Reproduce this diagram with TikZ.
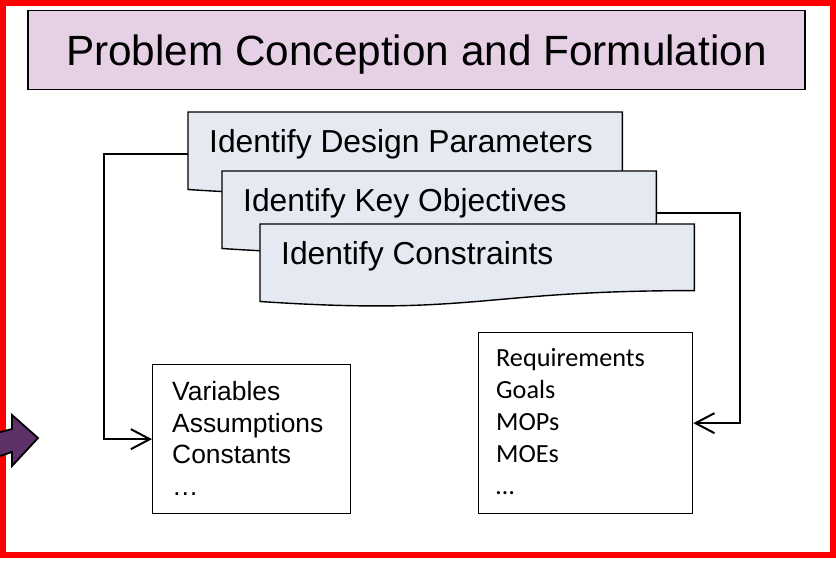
\documentclass[tikz,border=0pt]{standalone}
\usepackage{fontspec}
\setmainfont{Liberation Sans}
\newfontfamily\calibrifont{Carlito}
\usetikzlibrary{arrows.meta,calc}
\definecolor{framered}{RGB}{255,0,0}
\definecolor{titlefill}{RGB}{230,208,230}
\definecolor{docfill}{RGB}{228,233,242}
\definecolor{arrowpurple}{RGB}{94,50,104}

% document-shaped step box: rectangle top, wavy bottom edge
\newcommand{\docstep}[3]{%
  \node[docframe, anchor=north west] (#1) at (#2) {};
  \path[docline] (#1.north west) -- (#1.north east)
    -- ($(#1.north east)+(0,66.6)$)
    .. controls ($(#1.north west)+(217,66.6)$) and ($(#1.north west)+(217,91.9)$)
    .. ($(#1.north west)+(0,77.5)$) -- cycle;
  \node[doctext] (#1text) at ($(#1.north west)+(21,40.5)$) {#3};
}

\begin{document}
\begin{tikzpicture}[x=1pt,y=-1pt,
  docframe/.style={minimum width=434pt, minimum height=83pt, inner sep=0pt, draw=none},
  docline/.style={draw=black, line width=1.4pt, fill=docfill, line join=miter},
  doctext/.style={anchor=base west, inner sep=0pt, font=\fontsize{31.8}{38}\selectfont},
  titlebox/.style={draw=black, line width=1.4pt, fill=titlefill, inner sep=0pt,
    text depth=0pt, font=\fontsize{42.3}{48}\selectfont},
  listbox/.style={draw=black, line width=1.3pt, anchor=north west, inner sep=0pt},
  listtext/.style={anchor=base west, inner sep=0pt, align=left},
  conn/.style={draw=black, line width=2pt,
    -{Straight Barb[length=19pt,width=20pt,line width=2pt]}},
]
\useasboundingbox (0,0) rectangle (836,563);

% outer frame
\draw[framered, line width=6pt] (3,2.5) rectangle (832.5,555);

% heading
\node[titlebox, minimum width=777pt, minimum height=79pt] (title) at (416.5,50)
  {Problem Conception and Formulation};

% stacked steps
\docstep{b1}{188,112}{Identify Design Parameters}
\docstep{b2}{222,171}{Identify Key Objectives}
\docstep{b3}{260,224}{Identify Constraints}

% result lists (base anchor sits on the last line)
\node[listbox, minimum width=198pt, minimum height=149pt] (vars) at (152,364) {};
\node[listtext, font=\fontsize{26.4}{31.5}\selectfont] (varstext) at (172,495)
  {Variables\\Assumptions\\Constants\\…};

\node[listbox, minimum width=214pt, minimum height=181pt] (req) at (478,332) {};
\node[listtext, font=\calibrifont\fontsize{26.2}{32}\selectfont] (reqtext) at (496,494)
  {Requirements\\Goals\\MOPs\\MOEs\\…};

% connectors
\draw[conn] (b1.west) -| ([xshift=-48pt]vars.west) -- (vars.west);
\draw[conn] (b2.east) -| ([xshift=47pt]req.east) -- (req.east);

% incoming block arrow at the left edge
\filldraw[fill=arrowpurple, draw=black, line width=1.8pt, line join=miter]
  (-3,433) -- (12,429) -- (12,415) -- (38,438) -- (12,466) -- (12,452) -- (-3,457) -- cycle;
\end{tikzpicture}
\end{document}
